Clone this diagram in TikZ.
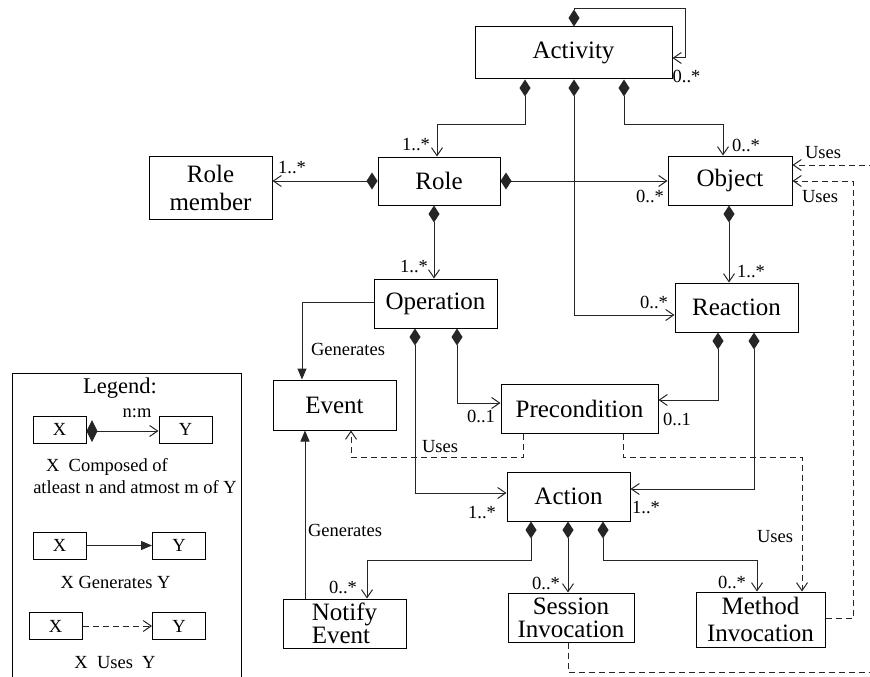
\documentclass[tikz,border=0pt]{standalone}
\usepackage{fontspec}
\setmainfont{Liberation Serif}
\usetikzlibrary{arrows.meta}
\begin{document}
\begin{tikzpicture}[x=1pt,y=-1pt,
  box/.style={draw, line width=1pt, inner sep=0pt, align=center,
              font=\fontsize{25}{24}\selectfont},
  smallbox/.style={draw, line width=1pt, inner sep=0pt,
              minimum width=53, minimum height=27,
              font=\fontsize{18.5}{20}\selectfont},
  lbl/.style={inner sep=0pt, font=\fontsize{18.5}{20}\selectfont},
  conn/.style={line width=1pt, black!85},
  compv/.style={conn, {Diamond[length=17pt,width=11pt]}-{Straight Barb[length=8pt,width=11pt]}},
  comph/.style={conn, {Diamond[length=11pt,width=17pt]}-{Straight Barb[length=8pt,width=11pt]}},
  gen/.style={conn, -{Triangle[length=11pt,width=9pt]}},
  uses/.style={conn, dash pattern=on 6pt off 4pt, -{Straight Barb[length=8pt,width=11pt]}},
]
\useasboundingbox (0,0) rectangle (870,677);

% ---------- classes ----------
\node[box, minimum width=197, minimum height=52] (act)     at (573.5,53)    {Activity};
\node[box, minimum width=122, minimum height=48] (role)    at (439,181)     {Role};
\node[box, minimum width=123, minimum height=63,
      font=\fontsize{25}{28}\selectfont]          (rm)      at (210.5,187.5) {Role\\member};
\node[box, minimum width=124, minimum height=49] (obj)     at (730,180.5)   {Object};
\node[box, minimum width=123, minimum height=49] (react)   at (736.5,307.5) {Reaction};
\node[box, minimum width=123, minimum height=49] (op)      at (435.5,303.5) {Operation};
\node[box, minimum width=123, minimum height=50] (event)   at (334.5,405)   {Event};
\node[box, minimum width=157, minimum height=49] (precond) at (579.5,408.5) {Precondition};
\node[box, minimum width=123, minimum height=49] (action)  at (568.5,496.5) {Action};
\node[box, minimum width=123, minimum height=49, align=left,
      font=\fontsize{25}{21}\selectfont]          (notify)  at (344.5,623.5) {Notify\\Event};
\node[box, minimum width=126, minimum height=49,
      font=\fontsize{25}{23}\selectfont]          (session) at (571,617.5)   {Session\\Invocation};
\node[box, minimum width=129, minimum height=55,
      font=\fontsize{25}{27}\selectfont]          (method)  at (760.5,619.5) {Method\\Invocation};

% ---------- composition links ----------
\draw[compv] (act.north -| 574,0) -- (574,9) -- (685,9) |- (act.east |- 0,58);
\node[lbl] (m0) at (686.5,76) {0..*};

\draw[compv] (act.south -| 525,0) |- (437,124) -- (role.north -| 437,0);
\node[lbl] (m1) at (416,145) {1..*};

\draw[compv] (act.south -| 574,0) |- (react.west |- 0,315);
\node[lbl] (m2) at (654,302) {0..*};

\draw[compv] (act.south -| 624,0) |- (723,124) -- (obj.north -| 723,0);
\node[lbl] (m3) at (746,145) {0..*};

\draw[comph] (role.west) -- (rm.east |- role.west);
\node[lbl] (m4) at (292,168) {1..*};

\draw[comph] (role.east) -- (obj.west |- role.east);
\node[lbl] (m5) at (650,196) {0..*};

\draw[compv] (role.south -| 434,0) -- (op.north -| 434,0);
\node[lbl] (m6) at (414,267) {1..*};

\draw[compv] (obj.south -| 729,0) -- (react.north -| 729,0);
\node[lbl] (m7) at (751,272) {1..*};

\draw[compv] (react.south -| 718,0) |- (precond.east |- 0,400);
\node[lbl] (m8) at (677,419) {0..1};

\draw[compv] (react.south -| 754,0) |- (action.east |- 0,489);
\node[lbl] (m9) at (646,508) {1..*};

\draw[compv] (op.south -| 457,0) |- (precond.west |- 0,403);
\node[lbl] (m10) at (481,416) {0..1};

\draw[compv] (op.south -| 415,0) |- (action.west |- 0,493);
\node[lbl] (m11) at (482,513) {1..*};

\draw[compv] (action.south -| 531,0) |- (367,560) -- (notify.north -| 367,0);
\node[lbl] (m12) at (343,587) {0..*};

\draw[compv] (action.south -| 568,0) -- (session.north -| 568,0);
\node[lbl] (m13) at (546,583) {0..*};

\draw[compv] (action.south -| 603,0) |- (757,560) -- (method.north -| 757,0);
\node[lbl] (m14) at (732,582) {0..*};

% ---------- generates links ----------
\draw[gen] (op.west |- 0,302) -| (event.north -| 302,0);
\node[lbl] (g1) at (348,349) {Generates};

\draw[gen] (notify.north -| 305,0) -- (event.south -| 305,0);
\node[lbl] (g2) at (345,530) {Generates};

% ---------- uses links ----------
\draw[uses] (precond.south -| 523,0) |- (351,457) -- (event.south -| 351,0);
\node[lbl] (u1) at (440,447) {Uses};

\draw[uses] (precond.south -| 623,0) |- (802,457) -- (method.north -| 802,0);
\node[lbl] (u2) at (775,537) {Uses};

\draw[uses] (method.east |- 0,618) -| (853,181) -- (obj.east |- 0,181);
\node[lbl] (u3) at (820,197) {Uses};

\begin{scope}
  \clip (0,0) rectangle (870,677);
  \draw[uses] (session.south -| 568,0) |- (878,672) |- (obj.east |- 0,165);
  % legend frame, open at the foot of the page
  \draw[line width=1pt] (12,690) -- (12,373) -- (241,373) -- (241,690);
\end{scope}
\node[lbl] (u4) at (823,153) {Uses};

% ---------- legend ----------
\node[inner sep=0pt, font=\fontsize{22.5}{24}\selectfont] (legtitle) at (120,388) {Legend:};

\node[smallbox] (lx1) at (59.5,429.5) {X};
\node[smallbox] (ly1) at (185.5,429.5) {Y};
\draw[conn, {Diamond[length=11pt,width=22pt]}-{Straight Barb[length=8pt,width=11pt]}]
  (lx1.east |- 0,431) -- (ly1.west |- 0,431);
\node[lbl] (nm) at (137,413) {n:m};
\node[lbl] (t1) at (107,467) {X\ \ Composed of};
\node[lbl] (t2) at (135,487) {atleast n and atmost m of Y};

\node[smallbox] (lx2) at (59.5,545.5) {X};
\node[smallbox] (ly2) at (179,545.5) {Y};
\draw[gen] (lx2.east) -- (ly2.west);
\node[lbl] (t3) at (115.5,582) {X Generates Y};

\node[smallbox] (lx3) at (55.5,626) {X};
\node[smallbox] (ly3) at (179,626) {Y};
\draw[uses] (lx3.east) -- (ly3.west);
\node[lbl] (t4) at (115,663) {X\ \ Uses\ \ Y};
\end{tikzpicture}
\end{document}
